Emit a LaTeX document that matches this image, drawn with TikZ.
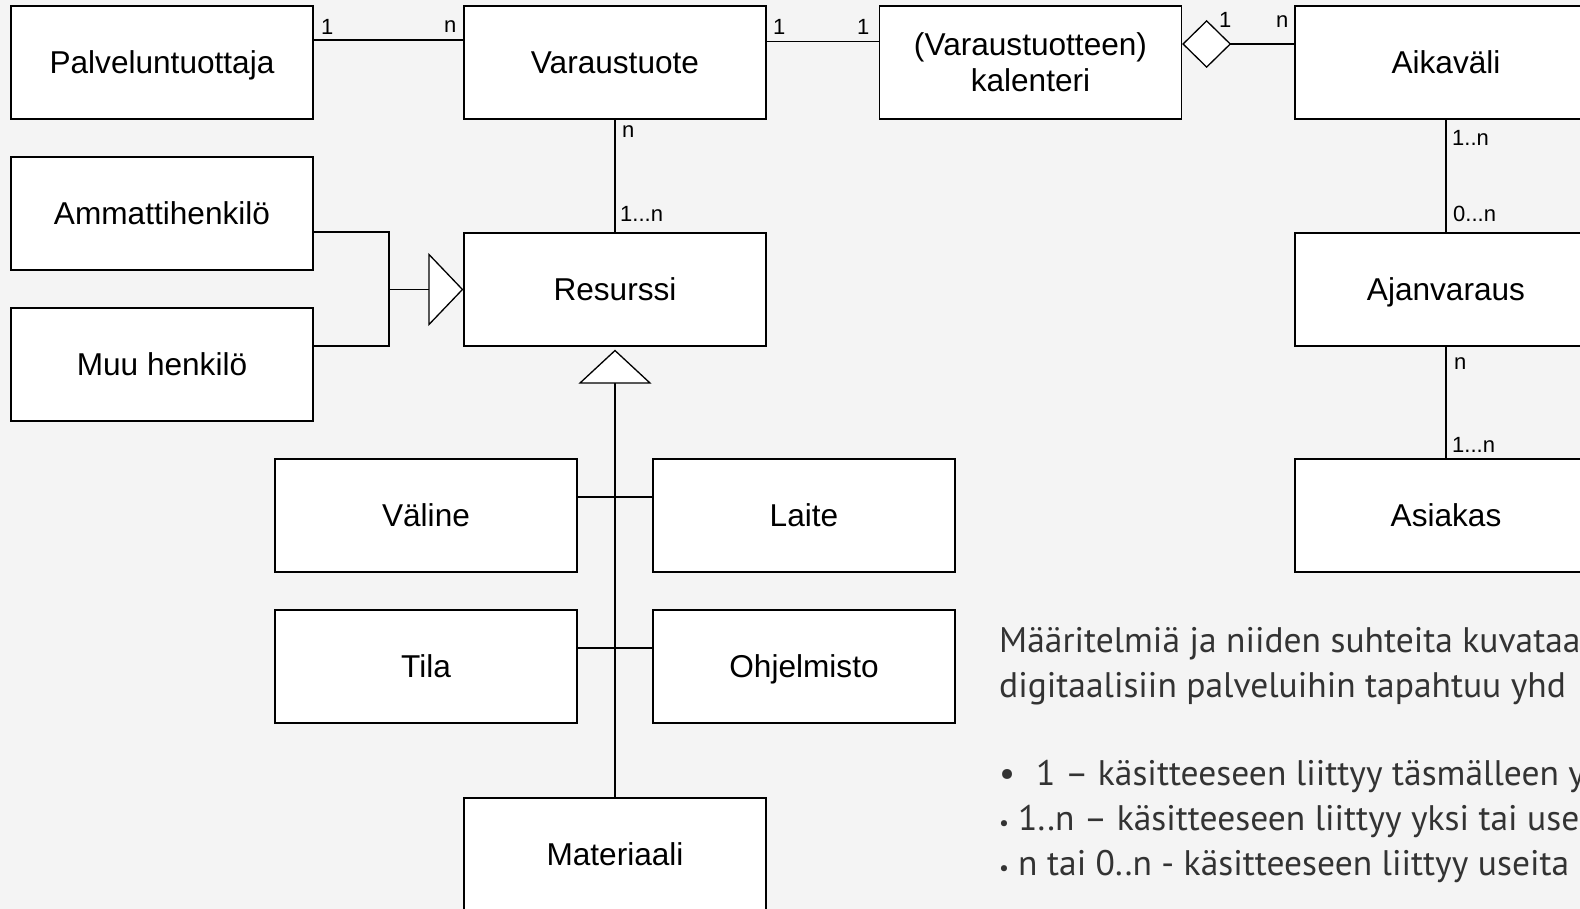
\documentclass[tikz,border=0pt]{standalone}
\usepackage{fontspec}
\setmainfont{Liberation Sans}
\newfontfamily\notefont{PT Sans}
\usetikzlibrary{arrows.meta, positioning}
\definecolor{PageGray}{HTML}{F4F4F4}
\definecolor{NoteGray}{HTML}{333333}
\tikzset{
  box/.style={draw, fill=white, line width=1.3pt, minimum width=302pt,
              minimum height=113pt, align=center,
              font=\fontsize{31.6}{36}\selectfont},
  entity/.style={box, text depth=0pt},
  mult/.style={anchor=base west, inner sep=0pt, font=\fontsize{22}{26}\selectfont},
  link/.style={line width=1.3pt},
  note/.style={anchor=base west, inner sep=0pt, text=NoteGray,
               font=\notefont\fontsize{35.5}{42}\selectfont}
}

\begin{document}
\begin{tikzpicture}[x=1pt, y=-1pt]
\useasboundingbox (0,0) rectangle (1580,909);
\clip (0,0) rectangle (1580,909);
\fill[PageGray] (0,0) rectangle (1580,909);

% top row
\node[entity] (palvelu)    at (162,62.5)    {Palveluntuottaja};
\node[entity] (varaus)     at (615,62.5)    {Varaustuote};
\node[box]    (kalenteri)  at (1030.5,62.5) {(Varaustuotteen)\\kalenteri};
\node[entity] (aikavali)   at (1446,62.5)   {Aikaväli};

% persons and resource
\node[entity] (ammatti)    at (162,213.5)   {Ammattihenkilö};
\node[entity] (muu)        at (162,364.5)   {Muu henkilö};
\node[entity] (resurssi)   at (615,289.5)   {Resurssi};
\node[entity] (ajanvaraus) at (1446,289.5)  {Ajanvaraus};

% resource kinds
\node[entity] (valine)     at (426,515.5)   {Väline};
\node[entity] (laite)      at (804,515.5)   {Laite};
\node[entity] (tila)       at (426,666.5)   {Tila};
\node[entity] (ohjelmisto) at (804,666.5)   {Ohjelmisto};
\node[entity] (materiaali) at (615,854.5)   {Materiaali};
\node[entity] (asiakas)    at (1446,515.5)  {Asiakas};

% associations
\draw[link] ([yshift=22.5pt]palvelu.east) -- ([yshift=22.5pt]varaus.west);
\draw[link] ([yshift=21pt]varaus.east) -- ([yshift=21pt]kalenteri.west);
\draw[link, {Diamond[length=49pt, width=48pt, fill=white]}-]
  ([yshift=18.5pt]kalenteri.east) -- ([yshift=18.5pt]aikavali.west);
\draw[link] (varaus) -- (resurssi);
\draw[link] (aikavali) -- (ajanvaraus);
\draw[link] (ajanvaraus) -- (asiakas);

% generalisations
\coordinate (join) at (389,289.5);
\draw[link] ([yshift=-18.5pt]ammatti.east) -| (join);
\draw[link] ([yshift=18.5pt]muu.east) -| (join);
\draw[link, -{Triangle[length=35pt, width=73pt, fill=white]}] (join) -- (resurssi.west);
\draw[link, -{Triangle[length=34pt, width=73pt, fill=white]}, shorten >=3pt]
  (materiaali.north) -- (resurssi.south);
\draw[link] ([yshift=18.5pt]valine.east) -- ([yshift=18.5pt]laite.west);
\draw[link] ([yshift=18.5pt]tila.east) -- ([yshift=18.5pt]ohjelmisto.west);

% multiplicities
\node[mult] (m1)  at (321,35)   {1};
\node[mult] (m2)  at (444,33)   {n};
\node[mult] (m3)  at (773,35)   {1};
\node[mult] (m4)  at (857,35)   {1};
\node[mult] (m5)  at (1219,28)  {1};
\node[mult] (m6)  at (1276,28)  {n};
\node[mult] (m7)  at (622,138)  {n};
\node[mult] (m8)  at (620,222)  {1...n};
\node[mult] (m9)  at (1452,146) {1..n};
\node[mult] (m10) at (1453,222) {0...n};
\node[mult] (m11) at (1454,370) {n};
\node[mult] (m12) at (1452,452) {1...n};

% explanation
\node[note] (def1) at (999,652) {Määritelmiä ja niiden suhteita kuvataa};
\node[note] (def2) at (999,697) {digitaalisiin palveluihin tapahtuu yhd};
\node[note] (def3) at (999,785) {\makebox[37pt][l]{•}1 – käsitteeseen liittyy täsmälleen y};
\node[note] (def4) at (999,830) {\makebox[19pt][l]{\fontsize{22}{22}\selectfont•}1..n – käsitteeseen liittyy yksi tai use};
\node[note] (def5) at (999,875) {\makebox[19pt][l]{\fontsize{22}{22}\selectfont•}n tai 0..n - käsitteeseen liittyy useita};
\end{tikzpicture}
\end{document}
